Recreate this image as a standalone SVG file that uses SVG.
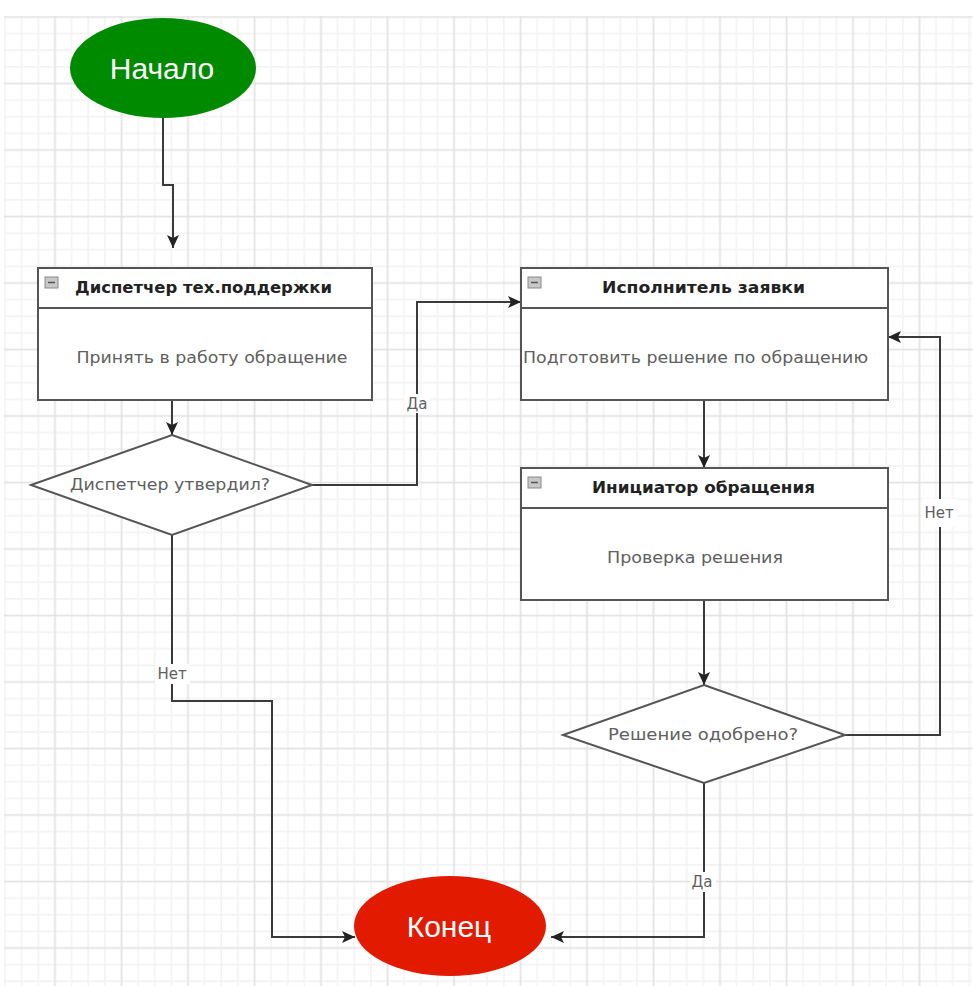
<svg xmlns="http://www.w3.org/2000/svg" width="973" height="986" viewBox="0 0 973 986">
  <defs>
    <pattern id="grid" patternUnits="userSpaceOnUse" x="-3.1875" y="-41.1875" width="66.5" height="66.5">
      <g stroke="#f3f3f3" stroke-width="1.6">
        <line x1="8.3125" y1="0" x2="8.3125" y2="66.5"/>
        <line x1="24.9375" y1="0" x2="24.9375" y2="66.5"/>
        <line x1="41.5625" y1="0" x2="41.5625" y2="66.5"/>
        <line x1="0" y1="8.3125" x2="66.5" y2="8.3125"/>
        <line x1="0" y1="24.9375" x2="66.5" y2="24.9375"/>
        <line x1="0" y1="41.5625" x2="66.5" y2="41.5625"/>
      </g>
      <g stroke="#e3e3e3" stroke-width="1.8">
        <line x1="58.1875" y1="0" x2="58.1875" y2="66.5"/>
        <line x1="0" y1="58.1875" x2="66.5" y2="58.1875"/>
      </g>
    </pattern>
    <marker id="arrow" markerUnits="userSpaceOnUse" markerWidth="14" markerHeight="12" refX="13" refY="6" orient="auto">
      <path d="M0,0 L13,6 L0,12 L3,6 Z" fill="#222"/>
    </marker>
    <g id="lane-icon">
      <rect x="0" y="0" width="13" height="11" fill="#c8c8c8" stroke="#8a8a8a" stroke-width="1"/>
      <line x1="3" y1="5.5" x2="10" y2="5.5" stroke="#555" stroke-width="1.5"/>
    </g>
  </defs>
  <style>
    .lane { fill: #ffffff; stroke: #555555; stroke-width: 2; }
    .divider { stroke: #555555; stroke-width: 2; }
    .decision { fill: #ffffff; stroke: #555555; stroke-width: 2; }
    .title { font-family: "DejaVu Sans", "Liberation Sans", sans-serif; font-weight: bold; font-size: 15px; fill: #222222; text-anchor: middle; }
    .body { font-family: "DejaVu Sans", "Liberation Sans", sans-serif; font-size: 15px; fill: #606060; text-anchor: middle; }
    .terminal { font-family: "Liberation Sans", Arial, sans-serif; font-size: 30px; fill: #ffffff; text-anchor: middle; }
    .edge { fill: none; stroke: #3a3a3a; stroke-width: 2; }
    .edge-label { font-family: "DejaVu Sans", "Liberation Sans", sans-serif; font-size: 15px; fill: #606060; text-anchor: middle; }
  </style>

  <rect width="973" height="986" fill="#ffffff"/>
  <rect x="4" y="16" width="969" height="970" fill="url(#grid)"/>

  <g id="connectors">
    <path class="edge" d="M163,118 V185 H173 V248" marker-end="url(#arrow)"/>
    <path class="edge" d="M172,400 V435" marker-end="url(#arrow)"/>
    <path class="edge" d="M312,485 H417 V302 H521" marker-end="url(#arrow)"/>
    <path class="edge" d="M172,535 V701 H272 V937 H355" marker-end="url(#arrow)"/>
    <path class="edge" d="M704,400 V468" marker-end="url(#arrow)"/>
    <path class="edge" d="M704,600 V685" marker-end="url(#arrow)"/>
    <path class="edge" d="M845,735 H940 V337 H888" marker-end="url(#arrow)"/>
    <path class="edge" d="M704,783 V937 H551" marker-end="url(#arrow)"/>

    <rect x="404" y="394" width="26" height="19" fill="#ffffff"/>
    <text class="edge-label" x="417" y="409">Да</text>
    <rect x="155" y="664" width="35" height="20" fill="#ffffff"/>
    <text class="edge-label" x="172" y="679">Нет</text>
    <rect x="922" y="499" width="35" height="28" fill="#ffffff"/>
    <text class="edge-label" x="939" y="518">Нет</text>
    <rect x="690" y="872" width="26" height="20" fill="#ffffff"/>
    <text class="edge-label" x="702" y="887">Да</text>
  </g>

  <g id="start">
    <ellipse cx="163" cy="68" rx="93" ry="50" fill="#008a00"/>
    <text class="terminal" x="162" y="79">Начало</text>
  </g>

  <g id="dispatcher">
    <rect class="lane" x="38" y="268" width="334" height="132"/>
    <line class="divider" x1="38" y1="308" x2="372" y2="308"/>
    <use href="#lane-icon" x="45" y="277"/>
    <text class="title" x="203.5" y="293" textLength="257" lengthAdjust="spacingAndGlyphs">Диспетчер тех.поддержки</text>
    <text class="body" x="212" y="363" textLength="271" lengthAdjust="spacingAndGlyphs">Принять в работу обращение</text>
  </g>

  <g id="dispatcher-decision">
    <polygon class="decision" points="172,435 312,485 172,535 31,485"/>
    <text class="body" x="170" y="490" textLength="200" lengthAdjust="spacingAndGlyphs">Диспетчер утвердил?</text>
  </g>

  <g id="executor">
    <rect class="lane" x="521" y="268" width="367" height="132"/>
    <line class="divider" x1="521" y1="308" x2="888" y2="308"/>
    <use href="#lane-icon" x="528" y="277"/>
    <text class="title" x="703.5" y="293" textLength="203" lengthAdjust="spacingAndGlyphs">Исполнитель заявки</text>
    <text class="body" x="695.5" y="363" textLength="345" lengthAdjust="spacingAndGlyphs">Подготовить решение по обращению</text>
  </g>

  <g id="initiator">
    <rect class="lane" x="521" y="468" width="367" height="132"/>
    <line class="divider" x1="521" y1="508" x2="888" y2="508"/>
    <use href="#lane-icon" x="528" y="477"/>
    <text class="title" x="703.5" y="493" textLength="223" lengthAdjust="spacingAndGlyphs">Инициатор обращения</text>
    <text class="body" x="695" y="563" textLength="176" lengthAdjust="spacingAndGlyphs">Проверка решения</text>
  </g>

  <g id="approval-decision">
    <polygon class="decision" points="704,685 845,735 704,783 563,735"/>
    <text class="body" x="703" y="740" textLength="190" lengthAdjust="spacingAndGlyphs">Решение одобрено?</text>
  </g>

  <g id="end">
    <ellipse cx="450" cy="926" rx="96" ry="50" fill="#e21a00"/>
    <text class="terminal" x="449" y="937">Конец</text>
  </g>
</svg>
